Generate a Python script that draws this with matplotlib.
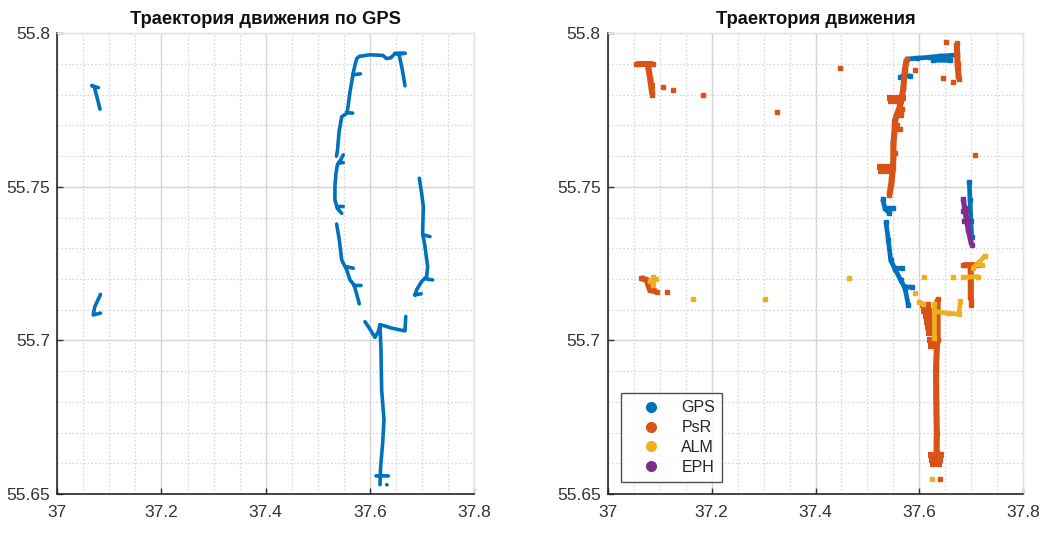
import numpy as np
import matplotlib
matplotlib.use("Agg")
import matplotlib.pyplot as plt
from matplotlib.lines import Line2D
from matplotlib.ticker import FixedLocator, MultipleLocator

plt.rcParams['font.family'] = ['Liberation Sans', 'DejaVu Sans']

nan = np.nan

# ---------------- data ----------------
TITLE_LEFT = "Траектория движения по GPS"
TITLE_RIGHT = "Траектория движения"
X_TICKS = [37.0, 37.2, 37.4, 37.6, 37.8]
X_TICK_LABELS = ["37", "37.2", "37.4", "37.6", "37.8"]
Y_TICKS = [55.65, 55.70, 55.75, 55.80]
Y_TICK_LABELS = ["55.65", "55.7", "55.75", "55.8"]
SERIES = ["GPS", "PsR", "ALM", "EPH"]

# Left panel: GPS track (NaN = break)
gps_lon = [37.082, 37.071, 37.066, nan, 37.068, 37.079, nan,
           37.083, 37.072, 37.069, 37.083, nan,
           37.6675, 37.662, 37.656, nan, 37.648, 37.668, nan,
           37.665, 37.648, 37.640, 37.632, 37.625, 37.600, 37.580, 37.575, 37.572, 37.568,
           37.562, 37.558, 37.556, 37.546, 37.541, 37.538, 37.536, nan,
           37.568, 37.582, nan, 37.556, 37.567, nan,
           37.549, 37.544, 37.5376, 37.535, 37.533, 37.533, 37.5376, 37.546, nan,
           37.5395, 37.549, nan, 37.5376, 37.549, nan,
           37.5363, 37.5414, 37.546, 37.5555, 37.562, 37.5696, 37.5734, 37.5798, nan,
           37.5555, 37.5683, nan, 37.5696, 37.583, nan,
           37.695, 37.6995, 37.7027, 37.7014, 37.7059, 37.711, 37.7091, 37.6995, 37.6899, 37.6867, nan,
           37.7027, 37.7155, nan, 37.7091, 37.7206, nan, 37.6860, 37.6985, nan,
           37.5907, 37.599, 37.6099, 37.6163, 37.6195, 37.6291, 37.6419, 37.6675, 37.6690, nan,
           37.6195, 37.6214, 37.6227, 37.6272, 37.6246, 37.6208, 37.6195, nan,
           37.6118, 37.6355, nan, 37.6323, 37.6330]
gps_lat = [55.7753, 55.7826, 55.7830, nan, 55.7828, 55.7823, nan,
           55.7150, 55.7110, 55.7083, 55.7089, nan,
           55.7829, 55.7885, 55.7932, nan, 55.7935, 55.7935, nan,
           55.7934, 55.7933, 55.7920, 55.7918, 55.7928, 55.7930, 55.7925, 55.7918, 55.7900, 55.7870,
           55.7810, 55.7760, 55.7740, 55.7728, 55.7680, 55.7620, 55.7600, nan,
           55.7865, 55.7868, nan, 55.7742, 55.7740, nan,
           55.7604, 55.7588, 55.7571, 55.7544, 55.7501, 55.7457, 55.7430, 55.7414, nan,
           55.7577, 55.7579, nan, 55.7436, 55.7436, nan,
           55.7379, 55.7327, 55.7262, 55.7230, 55.7197, 55.7181, 55.7159, 55.7119, nan,
           55.7240, 55.7235, nan, 55.7179, 55.7179, nan,
           55.7528, 55.7479, 55.7436, 55.7349, 55.7306, 55.7240, 55.7208, 55.7192, 55.7165, 55.7148, nan,
           55.7344, 55.7338, nan, 55.7200, 55.7197, nan, 55.7148, 55.7152, nan,
           55.7061, 55.7040, 55.7010, 55.7029, 55.7051, 55.7047, 55.7040, 55.7031, 55.7078, nan,
           55.7051, 55.6969, 55.6839, 55.6741, 55.6665, 55.6590, 55.6530, nan,
           55.6559, 55.6559, nan, 55.6530, 55.6530]

# Right panel: position fixes per solution type (NaN = break)
r_gps_lon = [37.5756, 37.5947, 37.6203, 37.6396, 37.6718, nan, 37.6260, 37.6590, nan,
             37.5630, 37.5820, nan,
             37.5292, 37.5337, 37.5421, nan, 37.5421, 37.5498, nan,
             37.5357, 37.5402, 37.5447, 37.5530, 37.5639, 37.5722, 37.5786, nan,
             37.5530, 37.5658, nan, 37.5722, 37.5850, nan,
             37.6960, 37.6975, 37.6990, 37.7007]
r_gps_lat = [55.7916, 55.7919, 55.7922, 55.7926, 55.7929, nan, 55.7912, 55.7912, nan,
             55.7859, 55.7862, nan,
             55.7460, 55.7430, 55.7414, nan, 55.7430, 55.7430, nan,
             55.7384, 55.7327, 55.7262, 55.7232, 55.7197, 55.7170, 55.7116, nan,
             55.7235, 55.7235, nan, 55.7175, 55.7173, nan,
             55.7517, 55.7457, 55.7390, 55.7338]

# PsR: main tracks
r_psr_lon = [37.5756, 37.5720, 37.5690, 37.5660, 37.5620, 37.5530, 37.5520, 37.5500, 37.5500, 37.5490, 37.5460, 37.5423, nan,
             37.5530, 37.5620, nan, 37.5550, 37.5650, nan,
             37.6718, 37.6735, 37.6760, nan,
             37.6350, 37.6350, nan,
             37.6340, 37.6320, 37.6325, 37.6335, 37.6330, nan,
             37.6846, 37.7100, nan, 37.6988, 37.6990, nan,
             37.0550, 37.0870, nan, 37.0780, 37.0820, 37.0860, nan,
             37.0642, 37.0751, 37.0815, 37.0943]
r_psr_lat = [55.7916, 55.7880, 55.7821, 55.7790, 55.7760, 55.7716, 55.7680, 55.7642, 55.7600, 55.7560, 55.7510, 55.7474, nan,
             55.7690, 55.7690, nan, 55.7735, 55.7735, nan,
             55.7968, 55.7900, 55.7850, nan,
             55.7135, 55.7000, nan,
             55.7000, 55.6900, 55.6800, 55.6700, 55.6637, nan,
             55.7245, 55.7245, nan, 55.7245, 55.7130, nan,
             55.7900, 55.7900, nan, 55.7890, 55.7850, 55.7800, nan,
             55.7203, 55.7197, 55.7165, 55.7159]
# PsR: dense clusters of fixes (drawn as wide bands)
r_psr_blob_lon = [37.5380, 37.5740, nan, 37.5400, 37.5700, nan,
                  37.5190, 37.5490, nan, 37.5210, 37.5480, nan,
                  37.6010, 37.6230, nan, 37.6030, 37.6250, nan, 37.6060, 37.6260, nan,
                  37.6080, 37.6270, nan, 37.6100, 37.6270, nan, 37.6120, 37.6300, nan,
                  37.6140, 37.6360, nan, 37.6160, 37.6360, nan,
                  37.6160, 37.6470, nan, 37.6180, 37.6450, nan, 37.6210, 37.6430, nan,
                  37.0800, 37.0905, nan, 37.0800, 37.0900, nan, 37.0750, 37.0850]
r_psr_blob_lat = [55.7790, 55.7790, nan, 55.7778, 55.7778, nan,
                  55.7565, 55.7565, nan, 55.7552, 55.7552, nan,
                  55.7115, 55.7115, nan, 55.7097, 55.7097, nan, 55.7079, 55.7079, nan,
                  55.7061, 55.7061, nan, 55.7043, 55.7043, nan, 55.7025, 55.7025, nan,
                  55.7002, 55.7002, nan, 55.6982, 55.6982, nan,
                  55.6628, 55.6628, nan, 55.6612, 55.6612, nan, 55.6597, 55.6597, nan,
                  55.7830, 55.7830, nan, 55.7815, 55.7815, nan, 55.7180, 55.7180]
r_psr_pts_lon = [37.1064, 37.1256, 37.1833, 37.3265, 37.4471, 37.5915, 37.6460, 37.6653, 37.6512,
                 37.7069, 37.1135, 37.6986, 37.6400, 37.5650, 37.5660, 37.5570, 37.5530, 37.5460]
r_psr_pts_lat = [55.7826, 55.7817, 55.7798, 55.7745, 55.7886, 55.7881, 55.7853, 55.7842, 55.7973,
                 55.7604, 55.7159, 55.7116, 55.6548, 55.7745, 55.7755, 55.7700, 55.7610, 55.7530]

r_alm_lon = [37.6290, 37.6290, nan, 37.6290, 37.6550, 37.6760, 37.6790, nan,
             37.6000, 37.6070, nan,
             37.6846, 37.7134, nan, 37.7037, 37.7150, 37.7261, nan, 37.7100, 37.7200, nan,
             37.0815, 37.0930, nan, 37.0880, 37.0880]
r_alm_lat = [55.7120, 55.7008, nan, 55.7095, 55.7088, 55.7086, 55.7128, nan,
             55.7125, 55.7118, nan,
             55.7205, 55.7208, nan, 55.7235, 55.7255, 55.7275, nan, 55.7248, 55.7245, nan,
             55.7192, 55.7199, nan, 55.7205, 55.7180]
r_alm_pts_lon = [37.1649, 37.3034, 37.4651, 37.5920, 37.6094, 37.6652, 37.6250]
r_alm_pts_lat = [55.7135, 55.7135, 55.7203, 55.7153, 55.7205, 55.7205, 55.6548]

r_eph_lon = [37.6845, 37.6870, 37.6900, 37.6941, 37.7005, nan, 37.6840, 37.6920, nan, 37.6860, 37.6940]
r_eph_lat = [55.7460, 55.7430, 55.7400, 55.7360, 55.7311, nan, 55.7420, 55.7420, nan, 55.7390, 55.7390]

COLORS = {"GPS": "#0072BD", "PsR": "#D95319", "ALM": "#EDB120", "EPH": "#7E2F8E"}

# ---------------- figure ----------------
fig = plt.figure(figsize=(10.42, 5.34), dpi=100)
ax1 = fig.add_axes([57.3 / 1042, 40 / 534, 416.7 / 1042, 460.7 / 534])
ax2 = fig.add_axes([607.7 / 1042, 40 / 534, 415.6 / 1042, 460.7 / 534])


def style(ax, title):
    ax.set_xlim(37.0, 37.8)
    ax.set_ylim(55.65, 55.80)
    ax.xaxis.set_major_locator(FixedLocator(X_TICKS))
    ax.set_xticklabels(X_TICK_LABELS)
    ax.yaxis.set_major_locator(FixedLocator(Y_TICKS))
    ax.set_yticklabels(Y_TICK_LABELS)
    ax.xaxis.set_minor_locator(MultipleLocator(0.05))
    ax.yaxis.set_minor_locator(MultipleLocator(0.01))
    ax.grid(which='major', color='#d4d4d4', linewidth=1.0)
    ax.grid(which='minor', color='#d4d4d4', linestyle=(0, (1.2, 1.8)), linewidth=0.9)
    ax.set_axisbelow(True)
    ax.tick_params(which='both', direction='in', labelsize=12.5, colors='#333333',
                   length=4, width=1.0)
    ax.tick_params(axis='x', pad=8)
    ax.tick_params(axis='y', pad=5)
    ax.tick_params(which='minor', length=0)
    for s in ['left', 'bottom']:
        ax.spines[s].set_color('#262626')
        ax.spines[s].set_linewidth(1.2)
    for s in ['top', 'right']:
        ax.spines[s].set_color('#e3e3e3')
        ax.spines[s].set_linewidth(1.0)
    ax.set_title(title, fontsize=13.2, fontweight='bold', pad=7, color='#111111')


style(ax1, TITLE_LEFT)
style(ax2, TITLE_RIGHT)

ax1.plot(gps_lon, gps_lat, color=COLORS["GPS"], linewidth=2.6, solid_capstyle='round',
         solid_joinstyle='round')

track_style = dict(marker='s', markersize=3.0, solid_capstyle='butt', solid_joinstyle='round')
ax2.plot(r_gps_lon, r_gps_lat, color=COLORS["GPS"], linewidth=3.4, **track_style)
ax2.plot(r_psr_lon, r_psr_lat, color=COLORS["PsR"], linewidth=4.4, **track_style)
ax2.plot(r_psr_blob_lon, r_psr_blob_lat, color=COLORS["PsR"], linewidth=4.5,
         solid_capstyle='butt')
ax2.plot(r_psr_pts_lon, r_psr_pts_lat, color=COLORS["PsR"], linestyle='none', marker='s', markersize=3.0)
ax2.plot(r_alm_lon, r_alm_lat, color=COLORS["ALM"], linewidth=3.4, **track_style)
ax2.plot(r_alm_pts_lon, r_alm_pts_lat, color=COLORS["ALM"], linestyle='none', marker='s', markersize=2.6)
ax2.plot(r_eph_lon, r_eph_lat, color=COLORS["EPH"], linewidth=3.8, **track_style)

handles = [Line2D([], [], color=COLORS[s], marker='o', linestyle='none', markersize=7) for s in SERIES]
leg = ax2.legend(handles, SERIES, loc='lower left', bbox_to_anchor=(0.031, 0.026),
                 borderaxespad=0.0, fontsize=11.5, frameon=True, fancybox=False,
                 edgecolor='#262626', handletextpad=0.45, borderpad=0.45,
                 labelspacing=0.3, handlelength=2.9)
leg.get_frame().set_linewidth(1.0)
for t in leg.get_texts():
    t.set_color('#262626')

fig.savefig("out.png", dpi=100, facecolor='white')
